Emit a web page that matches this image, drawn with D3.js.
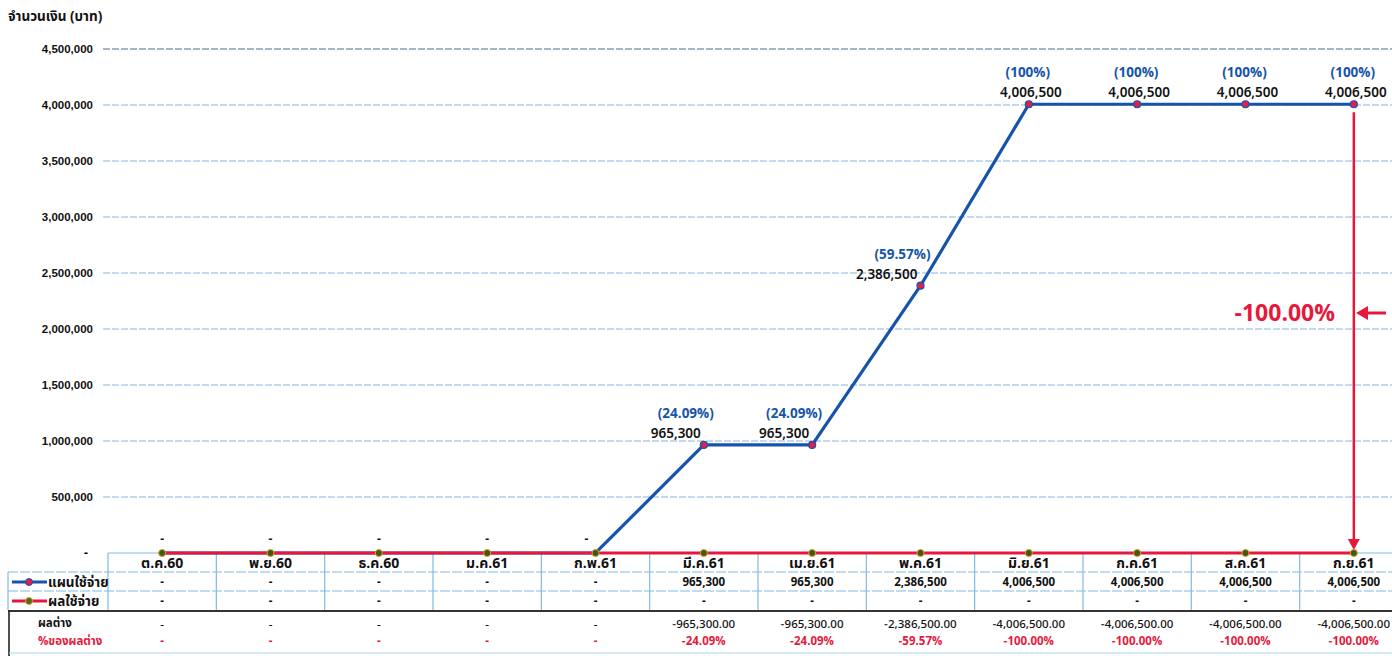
<!DOCTYPE html>
<html><head><meta charset="utf-8">
<script src="https://cdn.jsdelivr.net/npm/d3@7"></script>
<style>
html,body{margin:0;padding:0;background:#fff;}
svg{display:block;font-family:"Noto Sans Thai","Tahoma","Leelawadee UI","Noto Sans","DejaVu Sans",sans-serif;}
</style></head>
<body><svg id="c" width="1392" height="656"></svg>
<script>
const categories = ['ต.ค.60','พ.ย.60','ธ.ค.60','ม.ค.61','ก.พ.61','มี.ค.61','เม.ย.61','พ.ค.61','มิ.ย.61','ก.ค.61','ส.ค.61','ก.ย.61'];
const planValues = [0,0,0,0,0,965300,965300,2386500,4006500,4006500,4006500,4006500];
const actualValues = [0,0,0,0,0,0,0,0,0,0,0,0];
const planPctLabels = ['','','','','','(24.09%)','(24.09%)','(59.57%)','(100%)','(100%)','(100%)','(100%)'];
const yTicks = [500000,1000000,1500000,2000000,2500000,3000000,3500000,4000000,4500000];
const seriesNames = ['แผนใช้จ่าย','ผลใช้จ่าย'];
const diffRowNames = ['ผลต่าง','%ของผลต่าง'];
const yTitle = 'จำนวนเงิน (บาท)';
const totalBudget = 4006500;
const finalPctText = '-100.00%';

const svg = d3.select('#c');
const x = d3.scaleBand().domain(categories).range([108, 1408]);
const y = d3.scaleLinear().domain([0, 4500000]).range([553, 49]);
const cx = c => x(c) + x.bandwidth()/2;
const fmt = d3.format(',');
const fmt2 = d3.format(',.2f');
const blue = '#1654ac', red = '#e6193c', gridC = '#86b3df', tblC = '#7fbbe8';
const plan = planValues.map((v, i) => ({c: categories[i], v, i}));
const actual = actualValues.map((v, i) => ({c: categories[i], v, i}));

// gridlines
svg.append('g').selectAll('line').data(yTicks).join('line')
  .attr('x1', 103).attr('x2', 1392).attr('y1', d => y(d)).attr('y2', d => y(d))
  .attr('stroke', d => d === 4500000 ? '#4f6f96' : gridC).attr('stroke-width', 1.2)
  .attr('stroke-dasharray', '7,2');

// y axis labels
const yAxis = d3.axisLeft(y).tickValues(yTicks).tickSize(0).tickFormat(fmt);
const ga = svg.append('g').attr('transform', 'translate(93,0)').call(yAxis);
ga.select('.domain').remove();
ga.selectAll('text').attr('font-size', 11.5).attr('font-weight', 'bold').attr('fill', '#111').attr('x', 0);
svg.append('text').attr('x', 86).attr('y', y(0) + 4).attr('text-anchor', 'middle')
  .attr('font-size', 12).attr('font-weight', 'bold').text('-');
svg.append('text').attr('x', 8).attr('y', 21).attr('font-size', 13.5).attr('font-weight', 'bold').attr('fill', '#111').text(yTitle);

// table
const tg = svg.append('g');
categories.forEach(c => {
  tg.append('line').attr('x1', x(c)).attr('x2', x(c)).attr('y1', 553).attr('y2', 610)
    .attr('stroke', tblC).attr('stroke-width', 1.2);
});
tg.append('line').attr('x1', x.range()[1]).attr('x2', x.range()[1]).attr('y1', 553).attr('y2', 610).attr('stroke', tblC);
[572, 591].forEach(yy => tg.append('line').attr('x1', 8).attr('x2', 1392).attr('y1', yy).attr('y2', yy)
  .attr('stroke', tblC).attr('stroke-width', 1.2).attr('stroke-dasharray', '10,2'));
tg.append('line').attr('x1', 108).attr('x2', 1392).attr('y1', 553).attr('y2', 553).attr('stroke', tblC);
tg.append('line').attr('x1', 8).attr('x2', 8).attr('y1', 572).attr('y2', 610).attr('stroke', tblC).attr('stroke-width', 1.2);
tg.append('line').attr('x1', 8).attr('x2', 1392).attr('y1', 611).attr('y2', 611).attr('stroke', '#333').attr('stroke-width', 2);
tg.append('line').attr('x1', 9).attr('x2', 9).attr('y1', 611).attr('y2', 656).attr('stroke', '#222').attr('stroke-width', 1.6);
tg.append('line').attr('x1', 9).attr('x2', 1392).attr('y1', 653).attr('y2', 653).attr('stroke', '#a9d3f0').attr('stroke-width', 1);

tg.selectAll('.hdr').data(categories).join('text')
  .attr('x', d => cx(d)).attr('y', 568).attr('text-anchor', 'middle')
  .attr('font-size', 14).attr('font-weight', 'bold').attr('fill', '#111').text(d => d);
const dash = v => v === 0 ? '-' : fmt(v);
tg.selectAll('.pr').data(plan).join('text')
  .attr('x', d => cx(d.c)).attr('y', 586).attr('text-anchor', 'middle')
  .attr('font-size', 11.5).attr('font-weight', 'bold').attr('fill', '#111').text(d => dash(d.v));
tg.selectAll('.ar').data(actual).join('text')
  .attr('x', d => cx(d.c)).attr('y', 605).attr('text-anchor', 'middle')
  .attr('font-size', 11.5).attr('font-weight', 'bold').attr('fill', '#111').text(d => dash(d.v));
const diffs = plan.map(d => ({c: d.c, v: actualValues[d.i] - d.v}));
tg.selectAll('.dr').data(diffs).join('text')
  .attr('x', d => cx(d.c)).attr('y', 628).attr('text-anchor', 'middle')
  .attr('font-size', 11.5).attr('font-weight', 500).attr('fill', '#111').text(d => d.v === 0 ? '-' : fmt2(d.v));
tg.selectAll('.pc').data(diffs).join('text')
  .attr('x', d => cx(d.c)).attr('y', 645).attr('text-anchor', 'middle')
  .attr('font-size', 11.5).attr('font-weight', 'bold').attr('fill', red)
  .text(d => d.v === 0 ? '-' : d3.format('.2f')(d.v / totalBudget * 100) + '%');
svg.append('text').attr('x', 38).attr('y', 627).attr('font-size', 11.5).attr('font-weight', 'bold').attr('fill', '#111').text(diffRowNames[0]);
svg.append('text').attr('x', 38).attr('y', 645).attr('font-size', 11.5).attr('font-weight', 'bold').attr('fill', red).text(diffRowNames[1]);
[[blue, '#e0204a', 582], [red, '#4d6b1e', 601]].forEach(([lc, mc, yy], i) => {
  svg.append('line').attr('x1', 12).attr('x2', 47).attr('y1', yy).attr('y2', yy).attr('stroke', lc).attr('stroke-width', 3);
  svg.append('circle').attr('cx', 29).attr('cy', yy).attr('r', 3.5).attr('fill', mc).attr('stroke', i ? '#e0a020' : lc).attr('stroke-width', 1);
  svg.append('text').attr('x', 48).attr('y', yy + 5).attr('font-size', 13.5).attr('font-weight', 'bold').attr('fill', '#111').text(seriesNames[i]);
});

// lines: blue first, red on top
const line = d3.line().x(d => cx(d.c)).y(d => y(d.v));
svg.append('path').datum(plan).attr('d', line).attr('fill', 'none').attr('stroke', blue).attr('stroke-width', 3.2);
svg.append('path').datum(actual).attr('d', line).attr('fill', 'none').attr('stroke', red).attr('stroke-width', 3);

// red vertical arrow
const ax = cx(categories[categories.length - 1]);
svg.append('line').attr('x1', ax).attr('x2', ax).attr('y1', y(totalBudget) + 8).attr('y2', y(0) - 10)
  .attr('stroke', red).attr('stroke-width', 2.5);
svg.append('path').attr('d', `M${ax-6},${y(0)-14} L${ax+6},${y(0)-14} L${ax},${y(0)-3} Z`).attr('fill', red);

// markers
svg.selectAll('.pm').data(plan.filter(d => d.v > 0)).join('circle')
  .attr('cx', d => cx(d.c)).attr('cy', d => y(d.v)).attr('r', 3.5)
  .attr('fill', '#e0204a').attr('stroke', blue).attr('stroke-width', 1.2);
svg.selectAll('.am').data(actual).join('circle')
  .attr('cx', d => cx(d.c)).attr('cy', d => y(d.v)).attr('r', 3.5)
  .attr('fill', '#3d5a1a').attr('stroke', '#e09a20').attr('stroke-width', 1);

// actual "-" labels where plan is zero
actual.filter(d => planValues[d.i] === 0).forEach(d => {
  svg.append('text').attr('x', cx(d.c) - (d.i === 4 ? 9 : 0)).attr('y', y(d.v) - 10)
    .attr('text-anchor', 'middle').attr('font-size', 12).attr('font-weight', 'bold').attr('fill', '#111').text('-');
});

// plan labels
const maxV = d3.max(planValues);
plan.filter(d => d.v > 0).forEach(d => {
  const px = cx(d.c), py = y(d.v);
  const side = d.v < maxV;
  svg.append('text').attr('x', side ? px - 3 : px + 2).attr('y', py - 7)
    .attr('text-anchor', side ? 'end' : 'middle').attr('font-size', 13.5).attr('fill', '#111')
    .attr('font-weight', 600).text(fmt(d.v));
  svg.append('text').attr('x', side ? px + 10 : px - 1).attr('y', py - 27)
    .attr('text-anchor', side ? 'end' : 'middle').attr('font-size', 13.5)
    .attr('font-weight', 'bold').attr('fill', blue).text(planPctLabels[d.i]);
});

// -100% annotation
svg.append('text').attr('x', 1335).attr('y', 321).attr('text-anchor', 'end')
  .attr('font-size', 23).attr('font-weight', 'bold').attr('fill', red).text(finalPctText);
svg.append('line').attr('x1', 1386).attr('x2', 1366).attr('y1', 313).attr('y2', 313).attr('stroke', red).attr('stroke-width', 3);
svg.append('path').attr('d', 'M1356,313 L1368,306 L1368,320 Z').attr('fill', red);
</script></body></html>
